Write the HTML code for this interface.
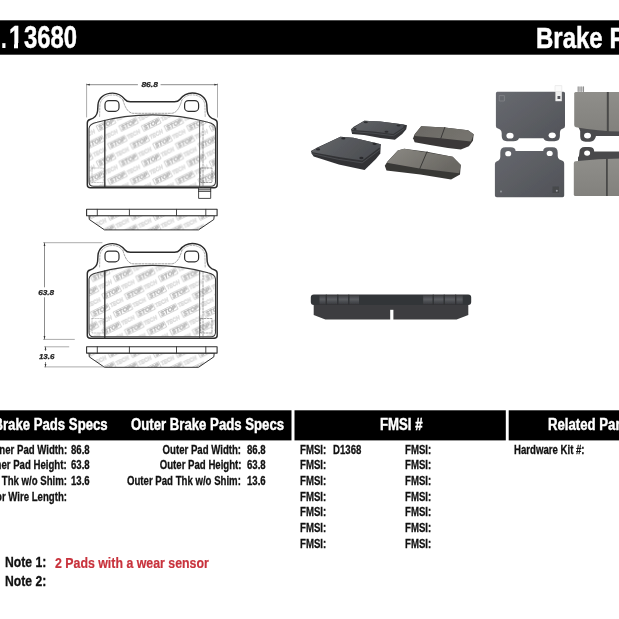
<!DOCTYPE html>
<html><head><meta charset="utf-8"><title>Brake Pads 13680</title>
<style>
html,body{margin:0;padding:0;background:#fff;}
body{will-change:transform;width:619px;height:619px;position:relative;overflow:hidden;font-family:"Liberation Sans",sans-serif;font-weight:bold;color:#111;}
.t{position:absolute;white-space:pre;line-height:1;transform-origin:0 0;}
.r{transform-origin:100% 0;text-align:right;}
svg{position:absolute;left:0;top:0;}
</style></head><body>
<svg width="619" height="619" viewBox="0 0 619 619">
<rect x="0" y="20.3" width="619" height="34.4" fill="#000"/>
<rect x="0" y="410.3" width="291.5" height="30.1" fill="#000"/>
<rect x="294.5" y="410.3" width="211.3" height="30.1" fill="#000"/>
<rect x="508.7" y="410.3" width="111" height="30.1" fill="#000"/>
</svg>
<div class="t" style="top:22px;font-size:31px;transform:scaleX(0.66);left:1.2px;color:#fff;-webkit-text-stroke:0.2px #fff;">.</div>
<div class="t" style="top:22px;font-size:31px;transform:scaleX(0.787);left:8.9px;color:#fff;-webkit-text-stroke:0.5px #fff;">1</div>
<div class="t" style="top:22px;font-size:31px;transform:scaleX(0.77);left:24.4px;color:#fff;-webkit-text-stroke:0.5px #fff;">3680</div>
<div style="position:absolute;left:9px;top:43px;width:4.6px;height:6px;background:#000"></div><div style="position:absolute;left:18.2px;top:43px;width:5.4px;height:6px;background:#000"></div>
<div class="t" style="top:22.9px;font-size:30px;transform:scaleX(0.8);left:536.3px;color:#fff;-webkit-text-stroke:0.5px #fff;">Brake Pads</div>
<div class="t r" style="top:416.6px;font-size:15.6px;transform:scaleX(0.845);right:511.2px;color:#fff;-webkit-text-stroke:0.45px #fff;">Inner Brake Pads Specs</div>
<div class="t" style="top:416.6px;font-size:15.6px;transform:scaleX(0.845);left:131.4px;color:#fff;-webkit-text-stroke:0.45px #fff;">Outer Brake Pads Specs</div>
<div class="t" style="top:416.6px;font-size:15.6px;transform:scaleX(0.845);left:379.5px;color:#fff;-webkit-text-stroke:0.45px #fff;">FMSI #</div>
<div class="t" style="top:416.6px;font-size:15.6px;transform:scaleX(0.845);left:548.3px;color:#fff;-webkit-text-stroke:0.45px #fff;">Related Parts</div>
<div class="t r" style="top:442.8px;font-size:13px;transform:scaleX(0.74);right:552.3px;-webkit-text-stroke:0.3px #111;">Inner Pad Width:</div>
<div class="t" style="top:442.8px;font-size:13px;transform:scaleX(0.74);left:71.2px;-webkit-text-stroke:0.3px #111;">86.8</div>
<div class="t r" style="top:458.45px;font-size:13px;transform:scaleX(0.74);right:552.3px;-webkit-text-stroke:0.3px #111;">Inner Pad Height:</div>
<div class="t" style="top:458.45px;font-size:13px;transform:scaleX(0.74);left:71.2px;-webkit-text-stroke:0.3px #111;">63.8</div>
<div class="t r" style="top:474.1px;font-size:13px;transform:scaleX(0.74);right:552.3px;-webkit-text-stroke:0.3px #111;">Inner Pad Thk w/o Shim:</div>
<div class="t" style="top:474.1px;font-size:13px;transform:scaleX(0.74);left:71.2px;-webkit-text-stroke:0.3px #111;">13.6</div>
<div class="t r" style="top:489.75px;font-size:13px;transform:scaleX(0.74);right:552.3px;-webkit-text-stroke:0.3px #111;">Sensor Wire Length:</div>
<div class="t r" style="top:442.8px;font-size:13px;transform:scaleX(0.74);right:377.7px;-webkit-text-stroke:0.3px #111;">Outer Pad Width:</div>
<div class="t" style="top:442.8px;font-size:13px;transform:scaleX(0.74);left:247.4px;-webkit-text-stroke:0.3px #111;">86.8</div>
<div class="t r" style="top:458.45px;font-size:13px;transform:scaleX(0.74);right:377.7px;-webkit-text-stroke:0.3px #111;">Outer Pad Height:</div>
<div class="t" style="top:458.45px;font-size:13px;transform:scaleX(0.74);left:247.4px;-webkit-text-stroke:0.3px #111;">63.8</div>
<div class="t r" style="top:474.1px;font-size:13px;transform:scaleX(0.74);right:377.7px;-webkit-text-stroke:0.3px #111;">Outer Pad Thk w/o Shim:</div>
<div class="t" style="top:474.1px;font-size:13px;transform:scaleX(0.74);left:247.4px;-webkit-text-stroke:0.3px #111;">13.6</div>
<div class="t" style="top:442.8px;font-size:13px;transform:scaleX(0.74);left:300.4px;-webkit-text-stroke:0.3px #111;">FMSI:</div>
<div class="t" style="top:442.8px;font-size:13px;transform:scaleX(0.74);left:404.9px;-webkit-text-stroke:0.3px #111;">FMSI:</div>
<div class="t" style="top:458.45px;font-size:13px;transform:scaleX(0.74);left:300.4px;-webkit-text-stroke:0.3px #111;">FMSI:</div>
<div class="t" style="top:458.45px;font-size:13px;transform:scaleX(0.74);left:404.9px;-webkit-text-stroke:0.3px #111;">FMSI:</div>
<div class="t" style="top:474.1px;font-size:13px;transform:scaleX(0.74);left:300.4px;-webkit-text-stroke:0.3px #111;">FMSI:</div>
<div class="t" style="top:474.1px;font-size:13px;transform:scaleX(0.74);left:404.9px;-webkit-text-stroke:0.3px #111;">FMSI:</div>
<div class="t" style="top:489.75px;font-size:13px;transform:scaleX(0.74);left:300.4px;-webkit-text-stroke:0.3px #111;">FMSI:</div>
<div class="t" style="top:489.75px;font-size:13px;transform:scaleX(0.74);left:404.9px;-webkit-text-stroke:0.3px #111;">FMSI:</div>
<div class="t" style="top:505.40000000000003px;font-size:13px;transform:scaleX(0.74);left:300.4px;-webkit-text-stroke:0.3px #111;">FMSI:</div>
<div class="t" style="top:505.40000000000003px;font-size:13px;transform:scaleX(0.74);left:404.9px;-webkit-text-stroke:0.3px #111;">FMSI:</div>
<div class="t" style="top:521.05px;font-size:13px;transform:scaleX(0.74);left:300.4px;-webkit-text-stroke:0.3px #111;">FMSI:</div>
<div class="t" style="top:521.05px;font-size:13px;transform:scaleX(0.74);left:404.9px;-webkit-text-stroke:0.3px #111;">FMSI:</div>
<div class="t" style="top:536.7px;font-size:13px;transform:scaleX(0.74);left:300.4px;-webkit-text-stroke:0.3px #111;">FMSI:</div>
<div class="t" style="top:536.7px;font-size:13px;transform:scaleX(0.74);left:404.9px;-webkit-text-stroke:0.3px #111;">FMSI:</div>
<div class="t" style="top:442.8px;font-size:13px;transform:scaleX(0.74);left:333.3px;-webkit-text-stroke:0.3px #111;">D1368</div>
<div class="t" style="top:442.8px;font-size:13px;transform:scaleX(0.74);left:514.1px;-webkit-text-stroke:0.3px #111;">Hardware Kit #:</div>
<div class="t" style="top:555.2px;font-size:14.4px;transform:scaleX(0.845);left:5.2px;-webkit-text-stroke:0.3px #111;">Note 1:</div>
<div class="t" style="top:573.6px;font-size:14.4px;transform:scaleX(0.845);left:5.2px;-webkit-text-stroke:0.3px #111;">Note 2:</div>
<div class="t" style="top:556.4px;font-size:14.3px;transform:scaleX(0.864);left:55px;color:#c8323c;-webkit-text-stroke:0.2px #c8323c;">2 Pads with a wear sensor</div>
<svg width="619" height="619" viewBox="0 0 619 619" fill="none" stroke-linecap="round" stroke-linejoin="round">
<defs>
<pattern id="wm" x="110.8" y="147.6" width="22.6" height="35.6" patternUnits="userSpaceOnUse">
 <g font-family="Liberation Sans, sans-serif" font-weight="bold" font-style="italic" font-size="5.8">
  <g transform="translate(-45.2,0.0) rotate(-26)"><rect x="-0.9" y="-4.9" width="18.6" height="5.9" fill="none" stroke="#a9a9a9" stroke-width="0.5"/><text x="0" y="0" fill="#b8b8b8" stroke="#a8a8a8" stroke-width="0.3" textLength="16.8" lengthAdjust="spacingAndGlyphs">STOP</text><text x="19" y="0" fill="#ebebeb" stroke="#cdcdcd" stroke-width="0.35" textLength="14.5" lengthAdjust="spacingAndGlyphs">TECH</text></g>
  <g transform="translate(-33.9,17.8) rotate(-26)"><rect x="-0.9" y="-4.9" width="18.6" height="5.9" fill="none" stroke="#a9a9a9" stroke-width="0.5"/><text x="0" y="0" fill="#b8b8b8" stroke="#a8a8a8" stroke-width="0.3" textLength="16.8" lengthAdjust="spacingAndGlyphs">STOP</text><text x="19" y="0" fill="#ebebeb" stroke="#cdcdcd" stroke-width="0.35" textLength="14.5" lengthAdjust="spacingAndGlyphs">TECH</text></g>
  <g transform="translate(-45.2,35.6) rotate(-26)"><rect x="-0.9" y="-4.9" width="18.6" height="5.9" fill="none" stroke="#a9a9a9" stroke-width="0.5"/><text x="0" y="0" fill="#b8b8b8" stroke="#a8a8a8" stroke-width="0.3" textLength="16.8" lengthAdjust="spacingAndGlyphs">STOP</text><text x="19" y="0" fill="#ebebeb" stroke="#cdcdcd" stroke-width="0.35" textLength="14.5" lengthAdjust="spacingAndGlyphs">TECH</text></g>
  <g transform="translate(-33.9,53.4) rotate(-26)"><rect x="-0.9" y="-4.9" width="18.6" height="5.9" fill="none" stroke="#a9a9a9" stroke-width="0.5"/><text x="0" y="0" fill="#b8b8b8" stroke="#a8a8a8" stroke-width="0.3" textLength="16.8" lengthAdjust="spacingAndGlyphs">STOP</text><text x="19" y="0" fill="#ebebeb" stroke="#cdcdcd" stroke-width="0.35" textLength="14.5" lengthAdjust="spacingAndGlyphs">TECH</text></g>
  <g transform="translate(-45.2,71.2) rotate(-26)"><rect x="-0.9" y="-4.9" width="18.6" height="5.9" fill="none" stroke="#a9a9a9" stroke-width="0.5"/><text x="0" y="0" fill="#b8b8b8" stroke="#a8a8a8" stroke-width="0.3" textLength="16.8" lengthAdjust="spacingAndGlyphs">STOP</text><text x="19" y="0" fill="#ebebeb" stroke="#cdcdcd" stroke-width="0.35" textLength="14.5" lengthAdjust="spacingAndGlyphs">TECH</text></g>
  <g transform="translate(-33.9,89.0) rotate(-26)"><rect x="-0.9" y="-4.9" width="18.6" height="5.9" fill="none" stroke="#a9a9a9" stroke-width="0.5"/><text x="0" y="0" fill="#b8b8b8" stroke="#a8a8a8" stroke-width="0.3" textLength="16.8" lengthAdjust="spacingAndGlyphs">STOP</text><text x="19" y="0" fill="#ebebeb" stroke="#cdcdcd" stroke-width="0.35" textLength="14.5" lengthAdjust="spacingAndGlyphs">TECH</text></g>
  <g transform="translate(-22.6,0.0) rotate(-26)"><rect x="-0.9" y="-4.9" width="18.6" height="5.9" fill="none" stroke="#a9a9a9" stroke-width="0.5"/><text x="0" y="0" fill="#b8b8b8" stroke="#a8a8a8" stroke-width="0.3" textLength="16.8" lengthAdjust="spacingAndGlyphs">STOP</text><text x="19" y="0" fill="#ebebeb" stroke="#cdcdcd" stroke-width="0.35" textLength="14.5" lengthAdjust="spacingAndGlyphs">TECH</text></g>
  <g transform="translate(-11.3,17.8) rotate(-26)"><rect x="-0.9" y="-4.9" width="18.6" height="5.9" fill="none" stroke="#a9a9a9" stroke-width="0.5"/><text x="0" y="0" fill="#b8b8b8" stroke="#a8a8a8" stroke-width="0.3" textLength="16.8" lengthAdjust="spacingAndGlyphs">STOP</text><text x="19" y="0" fill="#ebebeb" stroke="#cdcdcd" stroke-width="0.35" textLength="14.5" lengthAdjust="spacingAndGlyphs">TECH</text></g>
  <g transform="translate(-22.6,35.6) rotate(-26)"><rect x="-0.9" y="-4.9" width="18.6" height="5.9" fill="none" stroke="#a9a9a9" stroke-width="0.5"/><text x="0" y="0" fill="#b8b8b8" stroke="#a8a8a8" stroke-width="0.3" textLength="16.8" lengthAdjust="spacingAndGlyphs">STOP</text><text x="19" y="0" fill="#ebebeb" stroke="#cdcdcd" stroke-width="0.35" textLength="14.5" lengthAdjust="spacingAndGlyphs">TECH</text></g>
  <g transform="translate(-11.3,53.4) rotate(-26)"><rect x="-0.9" y="-4.9" width="18.6" height="5.9" fill="none" stroke="#a9a9a9" stroke-width="0.5"/><text x="0" y="0" fill="#b8b8b8" stroke="#a8a8a8" stroke-width="0.3" textLength="16.8" lengthAdjust="spacingAndGlyphs">STOP</text><text x="19" y="0" fill="#ebebeb" stroke="#cdcdcd" stroke-width="0.35" textLength="14.5" lengthAdjust="spacingAndGlyphs">TECH</text></g>
  <g transform="translate(-22.6,71.2) rotate(-26)"><rect x="-0.9" y="-4.9" width="18.6" height="5.9" fill="none" stroke="#a9a9a9" stroke-width="0.5"/><text x="0" y="0" fill="#b8b8b8" stroke="#a8a8a8" stroke-width="0.3" textLength="16.8" lengthAdjust="spacingAndGlyphs">STOP</text><text x="19" y="0" fill="#ebebeb" stroke="#cdcdcd" stroke-width="0.35" textLength="14.5" lengthAdjust="spacingAndGlyphs">TECH</text></g>
  <g transform="translate(-11.3,89.0) rotate(-26)"><rect x="-0.9" y="-4.9" width="18.6" height="5.9" fill="none" stroke="#a9a9a9" stroke-width="0.5"/><text x="0" y="0" fill="#b8b8b8" stroke="#a8a8a8" stroke-width="0.3" textLength="16.8" lengthAdjust="spacingAndGlyphs">STOP</text><text x="19" y="0" fill="#ebebeb" stroke="#cdcdcd" stroke-width="0.35" textLength="14.5" lengthAdjust="spacingAndGlyphs">TECH</text></g>
  <g transform="translate(0.0,0.0) rotate(-26)"><rect x="-0.9" y="-4.9" width="18.6" height="5.9" fill="none" stroke="#a9a9a9" stroke-width="0.5"/><text x="0" y="0" fill="#b8b8b8" stroke="#a8a8a8" stroke-width="0.3" textLength="16.8" lengthAdjust="spacingAndGlyphs">STOP</text><text x="19" y="0" fill="#ebebeb" stroke="#cdcdcd" stroke-width="0.35" textLength="14.5" lengthAdjust="spacingAndGlyphs">TECH</text></g>
  <g transform="translate(11.3,17.8) rotate(-26)"><rect x="-0.9" y="-4.9" width="18.6" height="5.9" fill="none" stroke="#a9a9a9" stroke-width="0.5"/><text x="0" y="0" fill="#b8b8b8" stroke="#a8a8a8" stroke-width="0.3" textLength="16.8" lengthAdjust="spacingAndGlyphs">STOP</text><text x="19" y="0" fill="#ebebeb" stroke="#cdcdcd" stroke-width="0.35" textLength="14.5" lengthAdjust="spacingAndGlyphs">TECH</text></g>
  <g transform="translate(0.0,35.6) rotate(-26)"><rect x="-0.9" y="-4.9" width="18.6" height="5.9" fill="none" stroke="#a9a9a9" stroke-width="0.5"/><text x="0" y="0" fill="#b8b8b8" stroke="#a8a8a8" stroke-width="0.3" textLength="16.8" lengthAdjust="spacingAndGlyphs">STOP</text><text x="19" y="0" fill="#ebebeb" stroke="#cdcdcd" stroke-width="0.35" textLength="14.5" lengthAdjust="spacingAndGlyphs">TECH</text></g>
  <g transform="translate(11.3,53.4) rotate(-26)"><rect x="-0.9" y="-4.9" width="18.6" height="5.9" fill="none" stroke="#a9a9a9" stroke-width="0.5"/><text x="0" y="0" fill="#b8b8b8" stroke="#a8a8a8" stroke-width="0.3" textLength="16.8" lengthAdjust="spacingAndGlyphs">STOP</text><text x="19" y="0" fill="#ebebeb" stroke="#cdcdcd" stroke-width="0.35" textLength="14.5" lengthAdjust="spacingAndGlyphs">TECH</text></g>
  <g transform="translate(0.0,71.2) rotate(-26)"><rect x="-0.9" y="-4.9" width="18.6" height="5.9" fill="none" stroke="#a9a9a9" stroke-width="0.5"/><text x="0" y="0" fill="#b8b8b8" stroke="#a8a8a8" stroke-width="0.3" textLength="16.8" lengthAdjust="spacingAndGlyphs">STOP</text><text x="19" y="0" fill="#ebebeb" stroke="#cdcdcd" stroke-width="0.35" textLength="14.5" lengthAdjust="spacingAndGlyphs">TECH</text></g>
  <g transform="translate(11.3,89.0) rotate(-26)"><rect x="-0.9" y="-4.9" width="18.6" height="5.9" fill="none" stroke="#a9a9a9" stroke-width="0.5"/><text x="0" y="0" fill="#b8b8b8" stroke="#a8a8a8" stroke-width="0.3" textLength="16.8" lengthAdjust="spacingAndGlyphs">STOP</text><text x="19" y="0" fill="#ebebeb" stroke="#cdcdcd" stroke-width="0.35" textLength="14.5" lengthAdjust="spacingAndGlyphs">TECH</text></g>
  <g transform="translate(22.6,0.0) rotate(-26)"><rect x="-0.9" y="-4.9" width="18.6" height="5.9" fill="none" stroke="#a9a9a9" stroke-width="0.5"/><text x="0" y="0" fill="#b8b8b8" stroke="#a8a8a8" stroke-width="0.3" textLength="16.8" lengthAdjust="spacingAndGlyphs">STOP</text><text x="19" y="0" fill="#ebebeb" stroke="#cdcdcd" stroke-width="0.35" textLength="14.5" lengthAdjust="spacingAndGlyphs">TECH</text></g>
  <g transform="translate(33.9,17.8) rotate(-26)"><rect x="-0.9" y="-4.9" width="18.6" height="5.9" fill="none" stroke="#a9a9a9" stroke-width="0.5"/><text x="0" y="0" fill="#b8b8b8" stroke="#a8a8a8" stroke-width="0.3" textLength="16.8" lengthAdjust="spacingAndGlyphs">STOP</text><text x="19" y="0" fill="#ebebeb" stroke="#cdcdcd" stroke-width="0.35" textLength="14.5" lengthAdjust="spacingAndGlyphs">TECH</text></g>
  <g transform="translate(22.6,35.6) rotate(-26)"><rect x="-0.9" y="-4.9" width="18.6" height="5.9" fill="none" stroke="#a9a9a9" stroke-width="0.5"/><text x="0" y="0" fill="#b8b8b8" stroke="#a8a8a8" stroke-width="0.3" textLength="16.8" lengthAdjust="spacingAndGlyphs">STOP</text><text x="19" y="0" fill="#ebebeb" stroke="#cdcdcd" stroke-width="0.35" textLength="14.5" lengthAdjust="spacingAndGlyphs">TECH</text></g>
  <g transform="translate(33.9,53.4) rotate(-26)"><rect x="-0.9" y="-4.9" width="18.6" height="5.9" fill="none" stroke="#a9a9a9" stroke-width="0.5"/><text x="0" y="0" fill="#b8b8b8" stroke="#a8a8a8" stroke-width="0.3" textLength="16.8" lengthAdjust="spacingAndGlyphs">STOP</text><text x="19" y="0" fill="#ebebeb" stroke="#cdcdcd" stroke-width="0.35" textLength="14.5" lengthAdjust="spacingAndGlyphs">TECH</text></g>
  <g transform="translate(22.6,71.2) rotate(-26)"><rect x="-0.9" y="-4.9" width="18.6" height="5.9" fill="none" stroke="#a9a9a9" stroke-width="0.5"/><text x="0" y="0" fill="#b8b8b8" stroke="#a8a8a8" stroke-width="0.3" textLength="16.8" lengthAdjust="spacingAndGlyphs">STOP</text><text x="19" y="0" fill="#ebebeb" stroke="#cdcdcd" stroke-width="0.35" textLength="14.5" lengthAdjust="spacingAndGlyphs">TECH</text></g>
  <g transform="translate(33.9,89.0) rotate(-26)"><rect x="-0.9" y="-4.9" width="18.6" height="5.9" fill="none" stroke="#a9a9a9" stroke-width="0.5"/><text x="0" y="0" fill="#b8b8b8" stroke="#a8a8a8" stroke-width="0.3" textLength="16.8" lengthAdjust="spacingAndGlyphs">STOP</text><text x="19" y="0" fill="#ebebeb" stroke="#cdcdcd" stroke-width="0.35" textLength="14.5" lengthAdjust="spacingAndGlyphs">TECH</text></g>
  <g transform="translate(45.2,0.0) rotate(-26)"><rect x="-0.9" y="-4.9" width="18.6" height="5.9" fill="none" stroke="#a9a9a9" stroke-width="0.5"/><text x="0" y="0" fill="#b8b8b8" stroke="#a8a8a8" stroke-width="0.3" textLength="16.8" lengthAdjust="spacingAndGlyphs">STOP</text><text x="19" y="0" fill="#ebebeb" stroke="#cdcdcd" stroke-width="0.35" textLength="14.5" lengthAdjust="spacingAndGlyphs">TECH</text></g>
  <g transform="translate(56.5,17.8) rotate(-26)"><rect x="-0.9" y="-4.9" width="18.6" height="5.9" fill="none" stroke="#a9a9a9" stroke-width="0.5"/><text x="0" y="0" fill="#b8b8b8" stroke="#a8a8a8" stroke-width="0.3" textLength="16.8" lengthAdjust="spacingAndGlyphs">STOP</text><text x="19" y="0" fill="#ebebeb" stroke="#cdcdcd" stroke-width="0.35" textLength="14.5" lengthAdjust="spacingAndGlyphs">TECH</text></g>
  <g transform="translate(45.2,35.6) rotate(-26)"><rect x="-0.9" y="-4.9" width="18.6" height="5.9" fill="none" stroke="#a9a9a9" stroke-width="0.5"/><text x="0" y="0" fill="#b8b8b8" stroke="#a8a8a8" stroke-width="0.3" textLength="16.8" lengthAdjust="spacingAndGlyphs">STOP</text><text x="19" y="0" fill="#ebebeb" stroke="#cdcdcd" stroke-width="0.35" textLength="14.5" lengthAdjust="spacingAndGlyphs">TECH</text></g>
  <g transform="translate(56.5,53.4) rotate(-26)"><rect x="-0.9" y="-4.9" width="18.6" height="5.9" fill="none" stroke="#a9a9a9" stroke-width="0.5"/><text x="0" y="0" fill="#b8b8b8" stroke="#a8a8a8" stroke-width="0.3" textLength="16.8" lengthAdjust="spacingAndGlyphs">STOP</text><text x="19" y="0" fill="#ebebeb" stroke="#cdcdcd" stroke-width="0.35" textLength="14.5" lengthAdjust="spacingAndGlyphs">TECH</text></g>
  <g transform="translate(45.2,71.2) rotate(-26)"><rect x="-0.9" y="-4.9" width="18.6" height="5.9" fill="none" stroke="#a9a9a9" stroke-width="0.5"/><text x="0" y="0" fill="#b8b8b8" stroke="#a8a8a8" stroke-width="0.3" textLength="16.8" lengthAdjust="spacingAndGlyphs">STOP</text><text x="19" y="0" fill="#ebebeb" stroke="#cdcdcd" stroke-width="0.35" textLength="14.5" lengthAdjust="spacingAndGlyphs">TECH</text></g>
  <g transform="translate(56.5,89.0) rotate(-26)"><rect x="-0.9" y="-4.9" width="18.6" height="5.9" fill="none" stroke="#a9a9a9" stroke-width="0.5"/><text x="0" y="0" fill="#b8b8b8" stroke="#a8a8a8" stroke-width="0.3" textLength="16.8" lengthAdjust="spacingAndGlyphs">STOP</text><text x="19" y="0" fill="#ebebeb" stroke="#cdcdcd" stroke-width="0.35" textLength="14.5" lengthAdjust="spacingAndGlyphs">TECH</text></g>
 </g>
</pattern>
<pattern id="wm2" x="105.1" y="147.6" width="22.6" height="35.6" patternUnits="userSpaceOnUse">
 <g font-family="Liberation Sans, sans-serif" font-weight="bold" font-style="italic" font-size="5.8">
  <g transform="translate(-45.2,0.0) rotate(-26)"><rect x="-0.9" y="-4.9" width="18.6" height="5.9" fill="none" stroke="#a9a9a9" stroke-width="0.5"/><text x="0" y="0" fill="#b8b8b8" stroke="#a8a8a8" stroke-width="0.3" textLength="16.8" lengthAdjust="spacingAndGlyphs">STOP</text><text x="19" y="0" fill="#ebebeb" stroke="#cdcdcd" stroke-width="0.35" textLength="14.5" lengthAdjust="spacingAndGlyphs">TECH</text></g>
  <g transform="translate(-33.9,17.8) rotate(-26)"><rect x="-0.9" y="-4.9" width="18.6" height="5.9" fill="none" stroke="#a9a9a9" stroke-width="0.5"/><text x="0" y="0" fill="#b8b8b8" stroke="#a8a8a8" stroke-width="0.3" textLength="16.8" lengthAdjust="spacingAndGlyphs">STOP</text><text x="19" y="0" fill="#ebebeb" stroke="#cdcdcd" stroke-width="0.35" textLength="14.5" lengthAdjust="spacingAndGlyphs">TECH</text></g>
  <g transform="translate(-45.2,35.6) rotate(-26)"><rect x="-0.9" y="-4.9" width="18.6" height="5.9" fill="none" stroke="#a9a9a9" stroke-width="0.5"/><text x="0" y="0" fill="#b8b8b8" stroke="#a8a8a8" stroke-width="0.3" textLength="16.8" lengthAdjust="spacingAndGlyphs">STOP</text><text x="19" y="0" fill="#ebebeb" stroke="#cdcdcd" stroke-width="0.35" textLength="14.5" lengthAdjust="spacingAndGlyphs">TECH</text></g>
  <g transform="translate(-33.9,53.4) rotate(-26)"><rect x="-0.9" y="-4.9" width="18.6" height="5.9" fill="none" stroke="#a9a9a9" stroke-width="0.5"/><text x="0" y="0" fill="#b8b8b8" stroke="#a8a8a8" stroke-width="0.3" textLength="16.8" lengthAdjust="spacingAndGlyphs">STOP</text><text x="19" y="0" fill="#ebebeb" stroke="#cdcdcd" stroke-width="0.35" textLength="14.5" lengthAdjust="spacingAndGlyphs">TECH</text></g>
  <g transform="translate(-45.2,71.2) rotate(-26)"><rect x="-0.9" y="-4.9" width="18.6" height="5.9" fill="none" stroke="#a9a9a9" stroke-width="0.5"/><text x="0" y="0" fill="#b8b8b8" stroke="#a8a8a8" stroke-width="0.3" textLength="16.8" lengthAdjust="spacingAndGlyphs">STOP</text><text x="19" y="0" fill="#ebebeb" stroke="#cdcdcd" stroke-width="0.35" textLength="14.5" lengthAdjust="spacingAndGlyphs">TECH</text></g>
  <g transform="translate(-33.9,89.0) rotate(-26)"><rect x="-0.9" y="-4.9" width="18.6" height="5.9" fill="none" stroke="#a9a9a9" stroke-width="0.5"/><text x="0" y="0" fill="#b8b8b8" stroke="#a8a8a8" stroke-width="0.3" textLength="16.8" lengthAdjust="spacingAndGlyphs">STOP</text><text x="19" y="0" fill="#ebebeb" stroke="#cdcdcd" stroke-width="0.35" textLength="14.5" lengthAdjust="spacingAndGlyphs">TECH</text></g>
  <g transform="translate(-22.6,0.0) rotate(-26)"><rect x="-0.9" y="-4.9" width="18.6" height="5.9" fill="none" stroke="#a9a9a9" stroke-width="0.5"/><text x="0" y="0" fill="#b8b8b8" stroke="#a8a8a8" stroke-width="0.3" textLength="16.8" lengthAdjust="spacingAndGlyphs">STOP</text><text x="19" y="0" fill="#ebebeb" stroke="#cdcdcd" stroke-width="0.35" textLength="14.5" lengthAdjust="spacingAndGlyphs">TECH</text></g>
  <g transform="translate(-11.3,17.8) rotate(-26)"><rect x="-0.9" y="-4.9" width="18.6" height="5.9" fill="none" stroke="#a9a9a9" stroke-width="0.5"/><text x="0" y="0" fill="#b8b8b8" stroke="#a8a8a8" stroke-width="0.3" textLength="16.8" lengthAdjust="spacingAndGlyphs">STOP</text><text x="19" y="0" fill="#ebebeb" stroke="#cdcdcd" stroke-width="0.35" textLength="14.5" lengthAdjust="spacingAndGlyphs">TECH</text></g>
  <g transform="translate(-22.6,35.6) rotate(-26)"><rect x="-0.9" y="-4.9" width="18.6" height="5.9" fill="none" stroke="#a9a9a9" stroke-width="0.5"/><text x="0" y="0" fill="#b8b8b8" stroke="#a8a8a8" stroke-width="0.3" textLength="16.8" lengthAdjust="spacingAndGlyphs">STOP</text><text x="19" y="0" fill="#ebebeb" stroke="#cdcdcd" stroke-width="0.35" textLength="14.5" lengthAdjust="spacingAndGlyphs">TECH</text></g>
  <g transform="translate(-11.3,53.4) rotate(-26)"><rect x="-0.9" y="-4.9" width="18.6" height="5.9" fill="none" stroke="#a9a9a9" stroke-width="0.5"/><text x="0" y="0" fill="#b8b8b8" stroke="#a8a8a8" stroke-width="0.3" textLength="16.8" lengthAdjust="spacingAndGlyphs">STOP</text><text x="19" y="0" fill="#ebebeb" stroke="#cdcdcd" stroke-width="0.35" textLength="14.5" lengthAdjust="spacingAndGlyphs">TECH</text></g>
  <g transform="translate(-22.6,71.2) rotate(-26)"><rect x="-0.9" y="-4.9" width="18.6" height="5.9" fill="none" stroke="#a9a9a9" stroke-width="0.5"/><text x="0" y="0" fill="#b8b8b8" stroke="#a8a8a8" stroke-width="0.3" textLength="16.8" lengthAdjust="spacingAndGlyphs">STOP</text><text x="19" y="0" fill="#ebebeb" stroke="#cdcdcd" stroke-width="0.35" textLength="14.5" lengthAdjust="spacingAndGlyphs">TECH</text></g>
  <g transform="translate(-11.3,89.0) rotate(-26)"><rect x="-0.9" y="-4.9" width="18.6" height="5.9" fill="none" stroke="#a9a9a9" stroke-width="0.5"/><text x="0" y="0" fill="#b8b8b8" stroke="#a8a8a8" stroke-width="0.3" textLength="16.8" lengthAdjust="spacingAndGlyphs">STOP</text><text x="19" y="0" fill="#ebebeb" stroke="#cdcdcd" stroke-width="0.35" textLength="14.5" lengthAdjust="spacingAndGlyphs">TECH</text></g>
  <g transform="translate(0.0,0.0) rotate(-26)"><rect x="-0.9" y="-4.9" width="18.6" height="5.9" fill="none" stroke="#a9a9a9" stroke-width="0.5"/><text x="0" y="0" fill="#b8b8b8" stroke="#a8a8a8" stroke-width="0.3" textLength="16.8" lengthAdjust="spacingAndGlyphs">STOP</text><text x="19" y="0" fill="#ebebeb" stroke="#cdcdcd" stroke-width="0.35" textLength="14.5" lengthAdjust="spacingAndGlyphs">TECH</text></g>
  <g transform="translate(11.3,17.8) rotate(-26)"><rect x="-0.9" y="-4.9" width="18.6" height="5.9" fill="none" stroke="#a9a9a9" stroke-width="0.5"/><text x="0" y="0" fill="#b8b8b8" stroke="#a8a8a8" stroke-width="0.3" textLength="16.8" lengthAdjust="spacingAndGlyphs">STOP</text><text x="19" y="0" fill="#ebebeb" stroke="#cdcdcd" stroke-width="0.35" textLength="14.5" lengthAdjust="spacingAndGlyphs">TECH</text></g>
  <g transform="translate(0.0,35.6) rotate(-26)"><rect x="-0.9" y="-4.9" width="18.6" height="5.9" fill="none" stroke="#a9a9a9" stroke-width="0.5"/><text x="0" y="0" fill="#b8b8b8" stroke="#a8a8a8" stroke-width="0.3" textLength="16.8" lengthAdjust="spacingAndGlyphs">STOP</text><text x="19" y="0" fill="#ebebeb" stroke="#cdcdcd" stroke-width="0.35" textLength="14.5" lengthAdjust="spacingAndGlyphs">TECH</text></g>
  <g transform="translate(11.3,53.4) rotate(-26)"><rect x="-0.9" y="-4.9" width="18.6" height="5.9" fill="none" stroke="#a9a9a9" stroke-width="0.5"/><text x="0" y="0" fill="#b8b8b8" stroke="#a8a8a8" stroke-width="0.3" textLength="16.8" lengthAdjust="spacingAndGlyphs">STOP</text><text x="19" y="0" fill="#ebebeb" stroke="#cdcdcd" stroke-width="0.35" textLength="14.5" lengthAdjust="spacingAndGlyphs">TECH</text></g>
  <g transform="translate(0.0,71.2) rotate(-26)"><rect x="-0.9" y="-4.9" width="18.6" height="5.9" fill="none" stroke="#a9a9a9" stroke-width="0.5"/><text x="0" y="0" fill="#b8b8b8" stroke="#a8a8a8" stroke-width="0.3" textLength="16.8" lengthAdjust="spacingAndGlyphs">STOP</text><text x="19" y="0" fill="#ebebeb" stroke="#cdcdcd" stroke-width="0.35" textLength="14.5" lengthAdjust="spacingAndGlyphs">TECH</text></g>
  <g transform="translate(11.3,89.0) rotate(-26)"><rect x="-0.9" y="-4.9" width="18.6" height="5.9" fill="none" stroke="#a9a9a9" stroke-width="0.5"/><text x="0" y="0" fill="#b8b8b8" stroke="#a8a8a8" stroke-width="0.3" textLength="16.8" lengthAdjust="spacingAndGlyphs">STOP</text><text x="19" y="0" fill="#ebebeb" stroke="#cdcdcd" stroke-width="0.35" textLength="14.5" lengthAdjust="spacingAndGlyphs">TECH</text></g>
  <g transform="translate(22.6,0.0) rotate(-26)"><rect x="-0.9" y="-4.9" width="18.6" height="5.9" fill="none" stroke="#a9a9a9" stroke-width="0.5"/><text x="0" y="0" fill="#b8b8b8" stroke="#a8a8a8" stroke-width="0.3" textLength="16.8" lengthAdjust="spacingAndGlyphs">STOP</text><text x="19" y="0" fill="#ebebeb" stroke="#cdcdcd" stroke-width="0.35" textLength="14.5" lengthAdjust="spacingAndGlyphs">TECH</text></g>
  <g transform="translate(33.9,17.8) rotate(-26)"><rect x="-0.9" y="-4.9" width="18.6" height="5.9" fill="none" stroke="#a9a9a9" stroke-width="0.5"/><text x="0" y="0" fill="#b8b8b8" stroke="#a8a8a8" stroke-width="0.3" textLength="16.8" lengthAdjust="spacingAndGlyphs">STOP</text><text x="19" y="0" fill="#ebebeb" stroke="#cdcdcd" stroke-width="0.35" textLength="14.5" lengthAdjust="spacingAndGlyphs">TECH</text></g>
  <g transform="translate(22.6,35.6) rotate(-26)"><rect x="-0.9" y="-4.9" width="18.6" height="5.9" fill="none" stroke="#a9a9a9" stroke-width="0.5"/><text x="0" y="0" fill="#b8b8b8" stroke="#a8a8a8" stroke-width="0.3" textLength="16.8" lengthAdjust="spacingAndGlyphs">STOP</text><text x="19" y="0" fill="#ebebeb" stroke="#cdcdcd" stroke-width="0.35" textLength="14.5" lengthAdjust="spacingAndGlyphs">TECH</text></g>
  <g transform="translate(33.9,53.4) rotate(-26)"><rect x="-0.9" y="-4.9" width="18.6" height="5.9" fill="none" stroke="#a9a9a9" stroke-width="0.5"/><text x="0" y="0" fill="#b8b8b8" stroke="#a8a8a8" stroke-width="0.3" textLength="16.8" lengthAdjust="spacingAndGlyphs">STOP</text><text x="19" y="0" fill="#ebebeb" stroke="#cdcdcd" stroke-width="0.35" textLength="14.5" lengthAdjust="spacingAndGlyphs">TECH</text></g>
  <g transform="translate(22.6,71.2) rotate(-26)"><rect x="-0.9" y="-4.9" width="18.6" height="5.9" fill="none" stroke="#a9a9a9" stroke-width="0.5"/><text x="0" y="0" fill="#b8b8b8" stroke="#a8a8a8" stroke-width="0.3" textLength="16.8" lengthAdjust="spacingAndGlyphs">STOP</text><text x="19" y="0" fill="#ebebeb" stroke="#cdcdcd" stroke-width="0.35" textLength="14.5" lengthAdjust="spacingAndGlyphs">TECH</text></g>
  <g transform="translate(33.9,89.0) rotate(-26)"><rect x="-0.9" y="-4.9" width="18.6" height="5.9" fill="none" stroke="#a9a9a9" stroke-width="0.5"/><text x="0" y="0" fill="#b8b8b8" stroke="#a8a8a8" stroke-width="0.3" textLength="16.8" lengthAdjust="spacingAndGlyphs">STOP</text><text x="19" y="0" fill="#ebebeb" stroke="#cdcdcd" stroke-width="0.35" textLength="14.5" lengthAdjust="spacingAndGlyphs">TECH</text></g>
  <g transform="translate(45.2,0.0) rotate(-26)"><rect x="-0.9" y="-4.9" width="18.6" height="5.9" fill="none" stroke="#a9a9a9" stroke-width="0.5"/><text x="0" y="0" fill="#b8b8b8" stroke="#a8a8a8" stroke-width="0.3" textLength="16.8" lengthAdjust="spacingAndGlyphs">STOP</text><text x="19" y="0" fill="#ebebeb" stroke="#cdcdcd" stroke-width="0.35" textLength="14.5" lengthAdjust="spacingAndGlyphs">TECH</text></g>
  <g transform="translate(56.5,17.8) rotate(-26)"><rect x="-0.9" y="-4.9" width="18.6" height="5.9" fill="none" stroke="#a9a9a9" stroke-width="0.5"/><text x="0" y="0" fill="#b8b8b8" stroke="#a8a8a8" stroke-width="0.3" textLength="16.8" lengthAdjust="spacingAndGlyphs">STOP</text><text x="19" y="0" fill="#ebebeb" stroke="#cdcdcd" stroke-width="0.35" textLength="14.5" lengthAdjust="spacingAndGlyphs">TECH</text></g>
  <g transform="translate(45.2,35.6) rotate(-26)"><rect x="-0.9" y="-4.9" width="18.6" height="5.9" fill="none" stroke="#a9a9a9" stroke-width="0.5"/><text x="0" y="0" fill="#b8b8b8" stroke="#a8a8a8" stroke-width="0.3" textLength="16.8" lengthAdjust="spacingAndGlyphs">STOP</text><text x="19" y="0" fill="#ebebeb" stroke="#cdcdcd" stroke-width="0.35" textLength="14.5" lengthAdjust="spacingAndGlyphs">TECH</text></g>
  <g transform="translate(56.5,53.4) rotate(-26)"><rect x="-0.9" y="-4.9" width="18.6" height="5.9" fill="none" stroke="#a9a9a9" stroke-width="0.5"/><text x="0" y="0" fill="#b8b8b8" stroke="#a8a8a8" stroke-width="0.3" textLength="16.8" lengthAdjust="spacingAndGlyphs">STOP</text><text x="19" y="0" fill="#ebebeb" stroke="#cdcdcd" stroke-width="0.35" textLength="14.5" lengthAdjust="spacingAndGlyphs">TECH</text></g>
  <g transform="translate(45.2,71.2) rotate(-26)"><rect x="-0.9" y="-4.9" width="18.6" height="5.9" fill="none" stroke="#a9a9a9" stroke-width="0.5"/><text x="0" y="0" fill="#b8b8b8" stroke="#a8a8a8" stroke-width="0.3" textLength="16.8" lengthAdjust="spacingAndGlyphs">STOP</text><text x="19" y="0" fill="#ebebeb" stroke="#cdcdcd" stroke-width="0.35" textLength="14.5" lengthAdjust="spacingAndGlyphs">TECH</text></g>
  <g transform="translate(56.5,89.0) rotate(-26)"><rect x="-0.9" y="-4.9" width="18.6" height="5.9" fill="none" stroke="#a9a9a9" stroke-width="0.5"/><text x="0" y="0" fill="#b8b8b8" stroke="#a8a8a8" stroke-width="0.3" textLength="16.8" lengthAdjust="spacingAndGlyphs">STOP</text><text x="19" y="0" fill="#ebebeb" stroke="#cdcdcd" stroke-width="0.35" textLength="14.5" lengthAdjust="spacingAndGlyphs">TECH</text></g>
 </g>
</pattern>
</defs>
<g transform="translate(0,0)">
<path d="M 93.5,186.3 Q 89,186.3 89,181.8 L 89,128.5 Q 89.3,123.8 97,122.2 Q 152.4,107.6 208,122.2 Q 215.2,123.8 215.5,128.5 L 215.5,181.8 Q 215.5,186.3 211,186.3 Z" fill="url(#wm)" stroke="none"/>
<path d="M 93.5,186.3 Q 89,186.3 89,181.8 L 89,128.5 Q 89.3,123.8 97,122.2 Q 152.4,107.6 208,122.2 Q 215.2,123.8 215.5,128.5 L 215.5,181.8 Q 215.5,186.3 211,186.3 Z" stroke="#3a3a3a" stroke-width="1.05"/>
<path d="M 90.4,187.7 Q 87.3,187.7 87.3,184.7 L 87.3,123 Q 87.3,120.3 90,119.5 C 94,118.3 96.9,116.5 97.6,111 L 98,104.8 C 98.4,98.3 104,93.1 112.6,93.1 C 118.5,93.1 122.3,96 125,99.5 Q 126.8,101.75 130.3,101.75 L 174.5,101.75 Q 178,101.75 179.8,99.5 C 182.5,96 186.3,93 192.2,93 C 200.8,93 206.4,98.3 206.8,104.8 L 207.2,111 C 207.9,116.5 210.8,118.3 214.8,119.5 Q 217.2,120.3 217.2,123 L 217.2,184.7 Q 217.2,187.7 214.2,187.7 Z" stroke="#2b2b2b" stroke-width="1.45"/>
<rect x="105" y="100.6" width="14" height="10.7" rx="3.8" stroke="#2e2e2e" stroke-width="1.2"/>
<rect x="184.6" y="100.6" width="14" height="10.7" rx="3.8" stroke="#2e2e2e" stroke-width="1.2"/>
<path d="M 104.8,120.4 L 104.8,187.4" stroke="#2e2e2e" stroke-width="1.3"/>
<path d="M 199.6,120.5 L 199.6,187.4" stroke="#444" stroke-width="0.8"/>
<path d="M 203,121 L 203,187" stroke="#666" stroke-width="0.6" stroke-dasharray="2 1.3"/>
<path d="M 123,100.2 Q 126.5,112.8 133,113.3 L 171.8,113.3 Q 178.3,112.8 181.8,100.2" stroke="#666" stroke-width="0.6" stroke-dasharray="2 1.3"/>
<path d="M 99.6,116.5 L 99.9,105 C 100.3,99.6 105.2,95 112.6,95 C 117.5,95 120.8,97.3 123,100.2" stroke="#777" stroke-width="0.55" stroke-dasharray="2 1.3"/>
<path d="M 205.2,116.5 L 204.9,105 C 204.5,99.6 199.6,94.9 192.2,94.9 C 187.3,94.9 184,97.3 181.8,100.2" stroke="#777" stroke-width="0.55" stroke-dasharray="2 1.3"/>
<rect x="200.6" y="168" width="11.4" height="14.5" stroke="#666" stroke-width="0.6" stroke-dasharray="2 1.3"/>
<rect x="92" y="168" width="11.4" height="14.5" stroke="#999" stroke-width="0.5" stroke-dasharray="1.6 1.2"/>
<path d="M 198.6,188 L 198.6,198.4 L 210.7,198.4 L 210.7,188 M 198.6,189.8 L 210.7,189.8 M 198.6,191.4 L 210.7,191.4" stroke="#333" stroke-width="0.9"/>
</g>
<g transform="translate(0,0)">
<path d="M 89,216 L 89.3,219.5 L 104.5,229.9 L 198.5,229.9 L 213.8,219.5 L 214.2,216 Z" fill="url(#wm)" stroke="none"/>
<path d="M 89,216 L 89.3,219.5 L 104.5,229.9 L 198.5,229.9 L 213.8,219.5 L 214.2,216 Z" stroke="#333" stroke-width="1"/>
<rect x="86.6" y="209.3" width="130.5" height="6.4" stroke="#2e2e2e" stroke-width="1.1" fill="#fff"/>
<path d="M 97.3,209.3 V 215.7 M 129.4,209.3 V 215.7 M 176.5,209.3 V 215.7 M 205.8,209.3 V 215.7" stroke="#333" stroke-width="0.9"/>
</g>
<g transform="translate(0,150.5)">
<path d="M 93.5,186.3 Q 89,186.3 89,181.8 L 89,128.5 Q 89.3,123.8 97,122.2 Q 152.4,107.6 208,122.2 Q 215.2,123.8 215.5,128.5 L 215.5,181.8 Q 215.5,186.3 211,186.3 Z" fill="url(#wm2)" stroke="none"/>
<path d="M 93.5,186.3 Q 89,186.3 89,181.8 L 89,128.5 Q 89.3,123.8 97,122.2 Q 152.4,107.6 208,122.2 Q 215.2,123.8 215.5,128.5 L 215.5,181.8 Q 215.5,186.3 211,186.3 Z" stroke="#3a3a3a" stroke-width="1.05"/>
<path d="M 90.4,187.7 Q 87.3,187.7 87.3,184.7 L 87.3,123 Q 87.3,120.3 90,119.5 C 94,118.3 96.9,116.5 97.6,111 L 98,104.8 C 98.4,98.3 104,93.1 112.6,93.1 C 118.5,93.1 122.3,96 125,99.5 Q 126.8,101.75 130.3,101.75 L 174.5,101.75 Q 178,101.75 179.8,99.5 C 182.5,96 186.3,93 192.2,93 C 200.8,93 206.4,98.3 206.8,104.8 L 207.2,111 C 207.9,116.5 210.8,118.3 214.8,119.5 Q 217.2,120.3 217.2,123 L 217.2,184.7 Q 217.2,187.7 214.2,187.7 Z" stroke="#2b2b2b" stroke-width="1.45"/>
<rect x="105" y="100.6" width="14" height="10.7" rx="3.8" stroke="#2e2e2e" stroke-width="1.2"/>
<rect x="184.6" y="100.6" width="14" height="10.7" rx="3.8" stroke="#2e2e2e" stroke-width="1.2"/>
<path d="M 104.8,120.4 L 104.8,187.4" stroke="#2e2e2e" stroke-width="1.3"/>
<path d="M 199.6,120.5 L 199.6,187.4" stroke="#444" stroke-width="0.8"/>
<path d="M 203,121 L 203,187" stroke="#666" stroke-width="0.6" stroke-dasharray="2 1.3"/>
<path d="M 123,100.2 Q 126.5,112.8 133,113.3 L 171.8,113.3 Q 178.3,112.8 181.8,100.2" stroke="#666" stroke-width="0.6" stroke-dasharray="2 1.3"/>
<path d="M 99.6,116.5 L 99.9,105 C 100.3,99.6 105.2,95 112.6,95 C 117.5,95 120.8,97.3 123,100.2" stroke="#777" stroke-width="0.55" stroke-dasharray="2 1.3"/>
<path d="M 205.2,116.5 L 204.9,105 C 204.5,99.6 199.6,94.9 192.2,94.9 C 187.3,94.9 184,97.3 181.8,100.2" stroke="#777" stroke-width="0.55" stroke-dasharray="2 1.3"/>
<rect x="200.6" y="168" width="11.4" height="14.5" stroke="#666" stroke-width="0.6" stroke-dasharray="2 1.3"/>
<rect x="92" y="168" width="11.4" height="14.5" stroke="#999" stroke-width="0.5" stroke-dasharray="1.6 1.2"/>
</g>
<g transform="translate(0,137.4)">
<path d="M 89,216 L 89.3,219.5 L 104.5,229.9 L 198.5,229.9 L 213.8,219.5 L 214.2,216 Z" fill="url(#wm)" stroke="none"/>
<path d="M 89,216 L 89.3,219.5 L 104.5,229.9 L 198.5,229.9 L 213.8,219.5 L 214.2,216 Z" stroke="#333" stroke-width="1"/>
<rect x="86.6" y="209.3" width="130.5" height="6.4" stroke="#2e2e2e" stroke-width="1.1" fill="#fff"/>
<path d="M 97.3,209.3 V 215.7 M 129.4,209.3 V 215.7 M 176.5,209.3 V 215.7 M 205.8,209.3 V 215.7" stroke="#333" stroke-width="0.9"/>
</g>
<g stroke="#777" stroke-width="0.7"><path d="M 86.6,84 V 117 M 217.5,84 V 117.2" stroke="#888"/><path d="M 86.6,84.7 H 137.5 M 161,84.7 H 217.5" stroke="#5a5a5a"/><path d="M 44.5,242.7 V 339.3" stroke="#5a5a5a"/><path d="M 43.5,242.7 H 102 M 43.5,339.4 H 74.4" stroke="#888"/><path d="M 45.5,346.8 V 366.9" stroke="#5a5a5a"/><path d="M 44.5,346.8 H 68.8 M 44.5,366.9 H 105.9" stroke="#888"/></g><g fill="#333" stroke="none"><path d="M 86.6,84.7 l 3.2,-0.9 v 1.8 z M 217.5,84.7 l -3.2,-0.9 v 1.8 z M 44.5,242.7 l -0.9,3.2 h 1.8 z M 44.5,339.3 l -0.9,-3.2 h 1.8 z M 45.5,346.8 l -0.9,3 h 1.8 z M 45.5,366.9 l -0.9,-3 h 1.8 z"/></g><g font-family="Liberation Sans, sans-serif" font-weight="bold" font-style="italic" font-size="7.4" fill="#222" stroke="#222" stroke-width="0.25"><text x="141.4" y="87.3" textLength="16.5" lengthAdjust="spacingAndGlyphs">86.8</text><rect x="36" y="287.3" width="20" height="10" fill="#fff" stroke="none"/><text x="38.2" y="294.7" textLength="16" lengthAdjust="spacingAndGlyphs">63.8</text><rect x="37" y="351" width="18" height="11" fill="#fff" stroke="none"/><text x="38.9" y="359.3" textLength="15.5" lengthAdjust="spacingAndGlyphs">13.6</text></g><defs>
<filter id="soft" x="-5%" y="-5%" width="110%" height="110%"><feGaussianBlur stdDeviation="0.45"/></filter>
<linearGradient id="gE" x1="0" y1="0" x2="1" y2="1"><stop offset="0" stop-color="#686a70"/><stop offset="1" stop-color="#515358"/></linearGradient>
<linearGradient id="gF" x1="0" y1="0" x2="1" y2="1"><stop offset="0" stop-color="#66686e"/><stop offset="1" stop-color="#505257"/></linearGradient>
<linearGradient id="gFr" x1="0" y1="0" x2="0" y2="1"><stop offset="0" stop-color="#8f8e8a"/><stop offset="1" stop-color="#82817d"/></linearGradient>
<linearGradient id="gBand" x1="0" y1="0" x2="0" y2="1"><stop offset="0" stop-color="#3c3e41"/><stop offset="0.45" stop-color="#5a5d61"/><stop offset="1" stop-color="#3a3c3f"/></linearGradient>
<linearGradient id="gTopA" x1="0" y1="0" x2="1" y2="0.4"><stop offset="0" stop-color="#64666a"/><stop offset="1" stop-color="#4c4e52"/></linearGradient>
<linearGradient id="gFrP" x1="0" y1="0" x2="1" y2="0.5"><stop offset="0" stop-color="#8b8983"/><stop offset="1" stop-color="#6a6863"/></linearGradient>
<linearGradient id="gFrC" x1="0" y1="0" x2="1" y2="0.3"><stop offset="0" stop-color="#6b6964"/><stop offset="1" stop-color="#75736e"/></linearGradient>
</defs>
<g filter="url(#soft)" stroke="none">
<path d="M 351,129.2 L 353.7,126.8 L 364.2,120.7 L 380.4,121.6 L 403.8,124.4 L 407,125.2 L 406.2,129.2 L 402.2,134.1 L 394.9,139.7 L 380.4,138.1 L 364.2,134.9 L 352.1,134.1 Z" fill="#343538" />
<path d="M 351.3,129.2 L 364.2,120.7 L 380.4,121.6 L 403.8,124.4 L 403.2,127.4 L 393.3,133.9 L 373.9,131.5 L 352.9,130 Z" fill="url(#gTopA)" />
<path d="M 352.5,131.6 L 373.9,133.3 L 393.5,135.7 L 404,128.8" fill="none" stroke="#55575b" stroke-width="0.7"/>
<ellipse cx="365.8" cy="122.2" rx="2" ry="1" fill="#2d2e30"/><ellipse cx="398.5" cy="125.5" rx="2" ry="1" fill="#2d2e30"/><ellipse cx="386.5" cy="131.7" rx="2" ry="1" fill="#2d2e30"/><ellipse cx="355" cy="129" rx="1.6" ry="0.9" fill="#2d2e30"/>
<path d="M 311.0,151.0 L 317.8,147.3 L 340.4,136.8 L 353.3,137.8 L 380.8,144.3 L 380.3,153.5 L 375.9,159.1 L 364.6,169.9 L 338.8,164.5 L 313.7,156.4 L 311.6,153.5 Z" fill="#323336" />
<path d="M 311.3,150.9 L 340.4,136.8 L 353.3,137.8 L 380.8,144.3 L 379.8,147.3 L 362.2,160.4 L 338.8,157.0 L 312.6,152.2 Z" fill="url(#gTopA)" />
<path d="M 312.6,153.8 L 338.8,159.4 L 362.2,162.8 L 379.5,149.9" fill="none" stroke="#56585c" stroke-width="0.7"/>
<ellipse cx="318.1" cy="149.4" rx="2.1" ry="1.1" fill="#2b2c2e"/><ellipse cx="343.3" cy="138.4" rx="2.1" ry="1.1" fill="#2b2c2e"/><ellipse cx="374.6" cy="143.9" rx="2.1" ry="1.1" fill="#2b2c2e"/><ellipse cx="361.4" cy="158.0" rx="2.1" ry="1.2" fill="#2b2c2e"/>
<path d="M 413.1,138.3 L 414.7,134.2 L 421.2,126.2 L 444.6,127.4 L 468,130.2 L 473.7,134.2 L 472.9,140.7 L 468.9,146.3 L 460.8,149.6 L 447.9,148 L 428.5,144.7 L 414.7,142.3 Z" fill="#3a3937" />
<path d="M 414.7,134.4 L 421.2,126.2 L 444.6,127.4 L 468,130.2 L 473.7,134.2 L 471,141.4 L 440.6,138.3 L 415,136 Z" fill="url(#gFrC)" />
<path d="M 444.8,127.4 L 440.8,138.5" stroke="#3a3937" stroke-width="1"/>
<path d="M 384.8,165.7 L 387.3,161.7 L 397.8,150.4 L 404.2,148.8 L 426.8,151.7 L 452.7,156.8 L 460.8,164.9 L 460,174.6 L 451.1,179.5 L 420.4,174.6 L 386.5,170.6 Z" fill="#383736" />
<path d="M 386.8,162.7 L 397.8,150.4 L 404.2,148.8 L 452.7,156.8 L 460.8,164.9 L 459.2,173.3 L 419.6,168.6 Z" fill="url(#gFrP)" />
<path d="M 427,151.8 L 419.8,168.6" stroke="#3a3937" stroke-width="1"/>
<path d="M 497.4,91.7 H 563.5 Q 565,91.7 565,93.2 V 126 Q 565,128 563,128.6 L 561,129.5 Q 559.9,130.5 559.9,133 V 136 Q 559.9,141.2 554.5,141.2 H 549 Q 544.5,141.2 543.4,138.2 H 519 Q 518,141.2 513.5,141.2 H 507 Q 501.7,141.2 501.7,136 V 133 Q 501.7,130.5 500,129.5 L 498,128.6 Q 495.9,128 495.9,126 V 93.2 Q 495.9,91.7 497.4,91.7 Z" fill="url(#gE)"/>
<ellipse cx="510" cy="135.7" rx="3.6" ry="2.9" fill="#fff"/><ellipse cx="552.2" cy="135.3" rx="3.6" ry="2.9" fill="#fff"/>
<rect x="555.4" y="85.6" width="6.4" height="6" fill="#fbfbfb" stroke="#dcdcdc" stroke-width="0.5"/><rect x="555.4" y="91.6" width="6.4" height="9.6" fill="#efefef"/><rect x="557.5" y="96" width="2.8" height="3" fill="#55575b"/>
<rect x="499.6" y="95.6" width="4.8" height="5.4" fill="none" stroke="#8b8d92" stroke-width="0.6"/>
<path d="M 496.8,197.2 H 562.6 Q 564.2,197.2 564.2,195.6 V 163.5 Q 564.2,161.5 562.5,160.8 L 559.5,159.5 Q 557.8,158.6 557.7,156 V 152.5 Q 557.7,147.3 552.5,147.3 H 548 Q 543.4,147.3 543.2,150.9 H 515.6 Q 515.4,147.3 510.8,147.3 H 505.5 Q 500.3,147.3 500.3,152.5 V 157 Q 500.2,159.6 498.5,160.5 L 496.5,161.5 Q 494.9,162.2 494.9,164 V 195.6 Q 494.9,197.2 496.8,197.2 Z" fill="url(#gF)"/>
<ellipse cx="508.2" cy="153.7" rx="3" ry="2.6" fill="#fff"/><ellipse cx="549.7" cy="153.4" rx="3" ry="2.6" fill="#fff"/>
<rect x="552.5" y="186.5" width="6.5" height="6.5" fill="#46484c"/><circle cx="556.8" cy="190.8" r="1" fill="#9a9ca0"/><circle cx="501" cy="191.5" r="0.9" fill="#9a9ca0"/>
<path d="M 578,126 H 625 V 136 H 596 Q 594.8,141.7 590,141.7 H 585.5 Q 580.3,141.7 580.2,136.5 V 131 Z" fill="#4b4b4d"/>
<ellipse cx="587.5" cy="135.6" rx="3.5" ry="2.9" fill="#fff"/>
<path d="M 575.7,92 H 625 V 131.6 Q 600,131.6 576,127.2 Q 574.2,126.8 574.2,125 V 93.5 Q 574.2,92 575.7,92 Z" fill="url(#gFr)"/>
<rect x="606.8" y="92" width="2" height="39.6" fill="#4a4a48"/>
<rect x="577.4" y="86.8" width="6.8" height="4.6" fill="#e4e4e4"/><path d="M 578.2,86.8 V 91.6 M 580,86.8 V 91.6 M 581.8,86.8 V 91.6 M 583.5,86.8 V 91.6" stroke="#777" stroke-width="0.8"/>
<path d="M 578,163 V 157.5 Q 579.3,156.5 579.4,152.5 Q 579.4,147 585,147 H 589 Q 594.2,147 594.2,151.4 H 625 V 163 Z" fill="#4a4a4c"/>
<ellipse cx="587.1" cy="153.1" rx="3" ry="2.7" fill="#fff"/>
<path d="M 575.5,161.2 Q 600,158.6 625,158.6 V 196 H 575.5 Q 573.8,196 573.8,194.4 V 163 Q 573.8,161.4 575.5,161.2 Z" fill="url(#gFr)"/>
<rect x="606" y="158.7" width="1.8" height="37.3" fill="#4a4a48"/>
<path d="M 313.7,304.5 L 313.7,315 L 325.4,319.5 L 456.6,319.5 L 468.3,315 L 468.3,304.5 Z" fill="#3c3d3f" />
<rect x="310.8" y="294.5" width="160.4" height="10.4" rx="3" fill="#333538"/>
<rect x="319.5" y="295.2" width="39.5" height="9" fill="url(#gBand)"/><rect x="423.2" y="295.2" width="39.5" height="9" fill="url(#gBand)"/>
<path d="M 326.3,295.2 V 304.2 M 337.8,295.2 V 304.2 M 348.8,295.2 V 304.2 M 433.2,295.2 V 304.2 M 444.2,295.2 V 304.2 M 455.7,295.2 V 304.2" stroke="#303235" stroke-width="1.4"/>
<rect x="390.2" y="309.8" width="3.2" height="10.5" fill="#fff"/>
</g>
</svg>
</body></html>
